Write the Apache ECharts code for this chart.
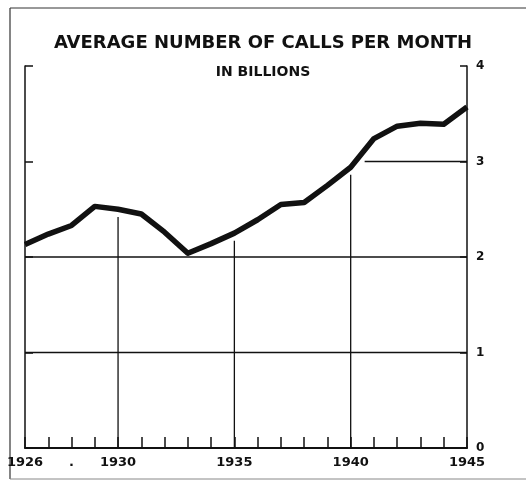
<!DOCTYPE html>
<html>
<head>
<meta charset="utf-8">
<script src="https://cdn.jsdelivr.net/npm/echarts@6/dist/echarts.min.js"></script>
<style>
html,body{margin:0;padding:0;background:#fff;}
#chart{width:526px;height:481px;}
</style>
</head>
<body>
<div id="chart"></div>
<script>
// ---- data ----
const years = [1926,1927,1928,1929,1930,1931,1932,1933,1934,1935,1936,1937,1938,1939,1940,1941,1942,1943,1944,1945];
const calls = [2.13,2.24,2.33,2.53,2.50,2.45,2.26,2.04,2.14,2.25,2.39,2.55,2.57,2.75,2.94,3.24,3.37,3.40,3.39,3.57];
const xLabelYears = [1926,1928,1930,1935,1940,1945];
const xLabelTexts = ['1926','.','1930','1935','1940','1945'];
const yTicks = [0,1,2,3,4];
const verticalGridYears = [1930,1935,1940];
const fullGridValues = [1,2];
const partialGridValue = 3;
const titleText = 'AVERAGE NUMBER OF CALLS PER MONTH';
const subtitleText = 'IN BILLIONS';

// ---- build ----
const ink = '#111';
const chart = echarts.init(document.getElementById('chart'), null, {renderer:'canvas'});
const lineData = years.map((y,i)=>[y, calls[i]]);
const xMin = years[0], xMax = years[years.length-1];

const series = [];
// full horizontal grid lines
fullGridValues.forEach(v=>{
  series.push({type:'line', data:[[xMin,v],[xMax,v]], symbol:'none', silent:true,
    lineStyle:{color:ink,width:1.3}, z:1});
});
// partial grid line starting where the curve crosses the value
(function(){
  let start = xMin;
  for(let i=1;i<calls.length;i++){
    if(calls[i-1] < partialGridValue && calls[i] >= partialGridValue){
      start = years[i-1] + (partialGridValue-calls[i-1])/(calls[i]-calls[i-1]) * (years[i]-years[i-1]);
      break;
    }
  }
  series.push({type:'line', data:[[start+0.4,partialGridValue],[xMax,partialGridValue]], symbol:'none', silent:true,
    lineStyle:{color:ink,width:1.3}, z:1});
})();
// vertical grid lines up to just below the curve
verticalGridYears.forEach(y=>{
  const v = calls[years.indexOf(y)];
  series.push({type:'line', data:[[y,0],[y,v-0.08]], symbol:'none', silent:true,
    lineStyle:{color:ink,width:1.3}, z:1});
});
// main curve
series.push({type:'line', data:lineData, symbol:'none', smooth:false,
  lineStyle:{color:ink,width:5.5,join:'round',cap:'butt'}, z:5});

const option = {
  backgroundColor:'#fff',
  animation:false,
  title:[
    {text:titleText, left:'center', top:29, textStyle:{fontFamily:'DejaVu Sans', fontWeight:'bold', fontSize:18, color:ink}},
    {text:subtitleText, left:'center', top:60, textStyle:{fontFamily:'DejaVu Sans', fontWeight:'bold', fontSize:14, color:ink}}
  ],
  grid:{left:25, right:59, top:66, bottom:33, containLabel:false},
  xAxis:{type:'value', min:xMin, max:xMax, interval:1,
    axisLine:{show:true, lineStyle:{color:ink,width:2}},
    axisTick:{show:true, inside:true, length:11, lineStyle:{color:ink,width:1.5}},
    splitLine:{show:false},
    axisLabel:{margin:8, color:ink, fontFamily:'DejaVu Sans', fontWeight:'bold', fontSize:13,
      showMinLabel:true, showMaxLabel:true,
      formatter:function(v){ const k = xLabelYears.indexOf(Math.round(v)); return k>=0 ? xLabelTexts[k] : ''; }}
  },
  yAxis:[
    {type:'value', position:'right', min:yTicks[0], max:yTicks[yTicks.length-1], interval:1,
      axisLine:{show:true, lineStyle:{color:ink,width:1.5}},
      axisTick:{show:true, inside:true, length:7, lineStyle:{color:ink,width:1.5}},
      splitLine:{show:false},
      axisLabel:{margin:9, color:ink, fontFamily:'DejaVu Sans', fontWeight:'bold', fontSize:12}
    },
    {type:'value', position:'left', min:yTicks[0], max:yTicks[yTicks.length-1], interval:1,
      axisLine:{show:true, onZero:false, lineStyle:{color:ink,width:1.5}},
      axisTick:{show:true, inside:true, length:8, lineStyle:{color:ink,width:1.5}},
      splitLine:{show:false},
      axisLabel:{show:false}
    }
  ],
  graphic:[
    {type:'line', shape:{x1:10,y1:8,x2:526,y2:8}, style:{stroke:'#333',lineWidth:1}, silent:true},
    {type:'line', shape:{x1:10,y1:8,x2:10,y2:479}, style:{stroke:'#333',lineWidth:1.2}, silent:true},
    {type:'line', shape:{x1:10,y1:479,x2:526,y2:479}, style:{stroke:'#888',lineWidth:1}, silent:true}
  ],
  series:series
};
chart.setOption(option);
</script>
</body>
</html>
